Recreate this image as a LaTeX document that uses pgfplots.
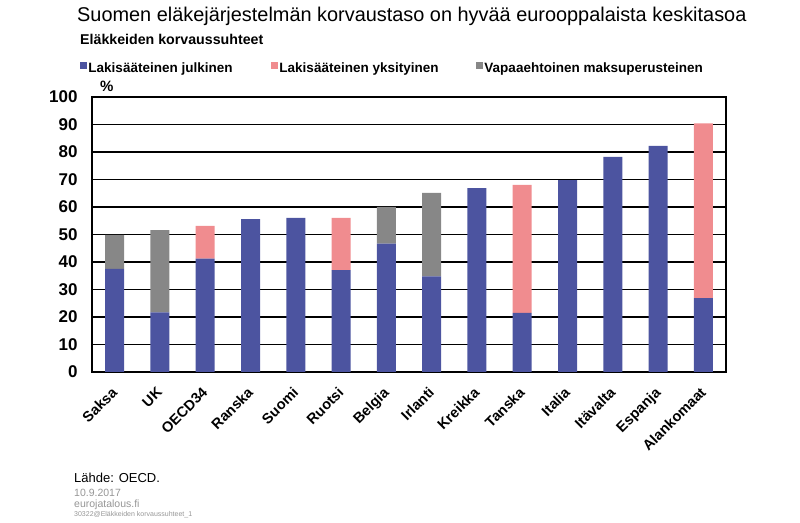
\documentclass[border=0pt]{standalone}
\usepackage{fontspec}
\setmainfont{Liberation Sans}
\usepackage{pgfplots}
\pgfplotsset{compat=1.18}

\definecolor{julk}{RGB}{76,84,160}
\definecolor{yksi}{RGB}{240,140,143}
\definecolor{vapa}{RGB}{135,135,135}
\definecolor{foot}{RGB}{150,150,150}

\begin{document}
\begin{tikzpicture}
\path[use as bounding box] (0pt,0pt) rectangle (800pt,522pt);

% otsikot
\node[anchor=base west, inner sep=0pt, font=\fontsize{19.9}{19.9}\selectfont]
  at (77pt,500pt) {Suomen eläkejärjestelmän korvaustaso on hyvää eurooppalaista keskitasoa};
\node[anchor=base west, inner sep=0pt, font=\bfseries\fontsize{14.2}{14.2}\selectfont]
  at (80pt,477pt) {Eläkkeiden korvaussuhteet};
\node[anchor=base west, inner sep=0pt, font=\bfseries\fontsize{15}{15}\selectfont]
  at (100pt,430pt) {\%};

\begin{axis}[
  at={(92pt,150pt)}, anchor=south west,
  scale only axis, width=634pt, height=275pt,
  ybar stacked, bar width=19pt,
  xmin=-0.5, xmax=13.5, ymin=0, ymax=100,
  xtick={0,...,13},
  xticklabels={Saksa,UK,OECD34,Ranska,Suomi,Ruotsi,Belgia,Irlanti,Kreikka,Tanska,Italia,Itävalta,Espanja,Alankomaat},
  ytick={0,10,...,100},
  major tick length=0pt,
  axis line style={black, line width=1.6pt},
  ymajorgrids, grid style={black, line width=1.5pt},
  /pgf/number format/assume math mode=true,
  y tick label style={font=\bfseries\fontsize{17}{17}\selectfont, xshift=-11pt},
  x tick label style={xshift=-4pt, yshift=-14pt, rotate=45, anchor=north east,
    font=\bfseries\fontsize{14.5}{14.5}\selectfont, inner sep=0pt},
  legend columns=3,
  legend style={at={(-0.024,1.106)}, anchor=west, draw=none, fill=none,
    font=\bfseries\fontsize{13.5}{13.5}\selectfont,
    nodes={inner xsep=1.5pt, inner ysep=0pt},
    /tikz/every even column/.append style={column sep=0pt}},
  legend image code/.code={\fill[#1] (0pt,-1pt) rectangle (7pt,6pt);},
]
\addplot[fill=julk, draw=none] coordinates {
  (0,37.5)(1,21.7)(2,41.2)(3,55.6)(4,56.0)(5,37.0)(6,46.7)
  (7,34.8)(8,66.9)(9,21.5)(10,69.8)(11,78.2)(12,82.2)(13,26.9)};
\addlegendentry{\makebox[181pt][l]{Lakisääteinen julkinen}}
\addplot[fill=yksi, draw=none] coordinates {
  (0,0)(1,0)(2,11.9)(3,0)(4,0)(5,19.0)(6,0)
  (7,0)(8,0)(9,46.5)(10,0)(11,0)(12,0)(13,63.5)};
\addlegendentry{\makebox[195pt][l]{Lakisääteinen yksityinen}}
\addplot[fill=vapa, draw=none] coordinates {
  (0,12.4)(1,29.9)(2,0)(3,0)(4,0)(5,0)(6,13.3)
  (7,30.3)(8,0)(9,0)(10,0)(11,0)(12,0)(13,0)};
\addlegendentry{Vapaaehtoinen maksuperusteinen}
\end{axis}

% lähde
\node[anchor=base west, inner sep=0pt, font=\fontsize{13}{13}\selectfont]
  at (74pt,40pt) {Lähde: OECD.};
\node[anchor=base west, inner sep=0pt, text=foot, font=\fontsize{10.5}{10.5}\selectfont]
  at (74pt,26pt) {10.9.2017};
\node[anchor=base west, inner sep=0pt, text=foot, font=\fontsize{10.5}{10.5}\selectfont]
  at (74pt,15pt) {eurojatalous.fi};
\node[anchor=base west, inner sep=0pt, text=foot, font=\fontsize{7}{7}\selectfont]
  at (74pt,6pt) {30322@Eläkkeiden korvaussuhteet\_1};
\end{tikzpicture}
\end{document}
